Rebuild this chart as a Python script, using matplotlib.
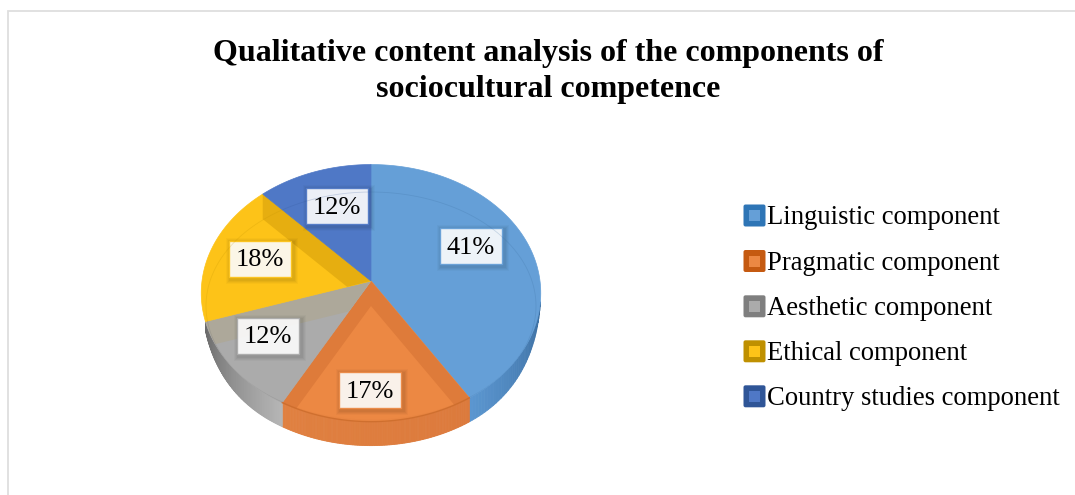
#!/usr/bin/python3
import numpy as np
import matplotlib
matplotlib.use("Agg")
import matplotlib.pyplot as plt
from matplotlib.colors import to_rgb
from matplotlib.patches import Polygon, Rectangle, FancyBboxPatch

# Данные
title_lines = ["Qualitative content analysis of the components of", "sociocultural competence"]
components = ["Linguistic component", "Pragmatic component", "Aesthetic component",
              "Ethical component", "Country studies component"]
shares = [41, 17, 12, 18, 12]

# Цвета секторов
face_colors = ["#659FD7", "#EC8843", "#ABABAB", "#FDC318", "#4F78C6"]
band_colors = ["#659FD7", "#DE7B3A", "#ADA89A", "#E6AE10", "#4C74BE"]
wall_dark = ["#3A6C9E", "#DC7A3C", "#6B6B6B", "#BF9000", "#2F5597"]
wall_light = ["#5B96D0", "#E08040", "#B6B6B6", "#BF9000", "#2F5597"]
swatch_colors = ["#2E75B6", "#C55A11", "#7F7F7F", "#BF9000", "#2F5597"]

# Центры подписей и строки легенды, в пикселях
label_xy = [(470.5, 246), (370, 390), (268, 335.5), (260, 259), (336.5, 206)]
legend_y = [215.5, 261, 306.3, 351.3, 396.3]

# Геометрия диска в пикселях
CX, CY = 371, 281
SU, SV = 169, 127.4
PERSP = 0.094
DEPTH = 24
BEVEL = 25


def project(t, r=1.0):
    # перспективная проекция точки диска, угол t от верха по часовой
    x = r * np.sin(t)
    y = r * np.cos(t)
    w = 1 + PERSP * y
    return np.column_stack([CX + SU * x / w, CY - SV * y / w])


def clip_convex(subject, clipper):
    # отсечение многоугольника выпуклым контуром
    area = np.sum(clipper[:, 0] * np.roll(clipper[:, 1], -1) - np.roll(clipper[:, 0], -1) * clipper[:, 1])
    sign = 1 if area > 0 else -1
    out = [tuple(p) for p in subject]
    for i in range(len(clipper)):
        a, b = clipper[i], clipper[(i + 1) % len(clipper)]
        side = lambda p: sign * ((b[0] - a[0]) * (p[1] - a[1]) - (b[1] - a[1]) * (p[0] - a[0]))
        res = []
        for j in range(len(out)):
            p, q = np.array(out[j]), np.array(out[(j + 1) % len(out)])
            sp, sq = side(p), side(q)
            if sp >= 0:
                res.append(tuple(p))
            if sp * sq < 0:
                res.append(tuple(p + (q - p) * sp / (sp - sq)))
        out = res
        if not out:
            break
    return np.array(out)


def wall_depth(y):
    # высота стенки плавно растёт от боковых краёв диска к переднему
    s = np.clip((y - 300) / 100, 0, 1)
    return DEPTH * s * (2 - s)


plt.rcParams["font.family"] = ["Liberation Serif", "DejaVu Serif"]
fig = plt.figure(figsize=(10.75, 4.95), dpi=100)
ax = fig.add_axes([0, 0, 1, 1])
ax.set_xlim(0, 1075)
ax.set_ylim(495, 0)
ax.axis("off")

# Рамка области графика
ax.plot([8, 8, 1075], [495, 10.5, 10.5], color="#DEDEDE", lw=1.3, solid_joinstyle="miter")

# Заголовок
ax.text(548, 54, title_lines[0], ha="center", va="center", fontsize=23, fontweight="bold", color="black")
ax.text(548, 90, title_lines[1], ha="center", va="center", fontsize=23, fontweight="bold", color="black")

edges = np.cumsum([0] + shares) / sum(shares) * 2 * np.pi
tt = np.linspace(0, 2 * np.pi, 361)
inner_oval = np.column_stack([CX + 165 * np.sin(tt), 306 + 114 * np.cos(tt)])

# Боковая стенка видна у синего, оранжевого и серого секторов
for i in range(3):
    arc = project(np.linspace(edges[i], edges[i + 1], 120))
    arc = arc[arc[:, 1] >= 300]
    for k in range(len(arc) - 1):
        f = k / max(len(arc) - 2, 1)
        if i == 2:
            f = 1 - f
        c0 = np.array(to_rgb(wall_dark[i]))
        c1 = np.array(to_rgb(wall_light[i]))
        col = c0 + (c1 - c0) * f
        p, q = arc[k], arc[k + 1]
        ax.add_patch(Polygon([p, q, q + [0, wall_depth(q[1])], p + [0, wall_depth(p[1])]],
                             closed=True, fc=col, ec=col, lw=0.6))

# Верхняя грань и полосы фаски вдоль радиальных кромок
for i in range(len(shares)):
    arc = project(np.linspace(edges[i], edges[i + 1], 120))
    wedge = np.vstack([[CX, CY], arc])
    patch = Polygon(wedge, closed=True, fc=face_colors[i], ec=face_colors[i], lw=0.5)
    ax.add_patch(patch)
    for end in (arc[0], arc[-1]):
        apex = np.array([CX, CY], dtype=float)
        strip = np.array([apex, end, end + [0, BEVEL], apex + [0, BEVEL]])
        strip = clip_convex(strip, wedge)
        if len(strip) >= 3:
            ax.add_patch(Polygon(strip, closed=True, fc=band_colors[i], ec="none"))
    line, = ax.plot(inner_oval[:, 0], inner_oval[:, 1], color=wall_dark[i], lw=0.6, alpha=0.22)
    line.set_clip_path(patch)

# Нижняя кромка оранжевого сектора
front = project(np.linspace(edges[1], edges[2], 60))
ax.plot(front[:, 0], front[:, 1], color="#C96A2A", lw=1.0, alpha=0.8)

# Подписи долей
for i, val in enumerate(shares):
    lx, ly = label_xy[i]
    for off, al in [(5, 0.025), (4, 0.03), (3, 0.035), (2, 0.04)]:
        ax.add_patch(Rectangle((lx - 31 - off + 2, ly - 18 - off + 2), 62 + 2 * off, 36 + 2 * off,
                               fc="black", ec="none", alpha=al))
    ax.add_patch(Rectangle((lx - 31, ly - 18), 62, 36, fc="white", ec=face_colors[i], lw=1.0, alpha=0.9))
    ax.text(lx, ly + 1.5, f"{val}%", ha="center", va="center", fontsize=19, color="black")

# Легенда
for name, y, edge, face in zip(components, legend_y, swatch_colors, face_colors):
    ax.add_patch(FancyBboxPatch((743.5, y - 11), 22, 22, boxstyle="round,pad=0,rounding_size=2",
                                fc=edge, ec="none"))
    ax.add_patch(Rectangle((749, y - 5.5), 11, 11, fc=face, ec="none"))
    ax.text(767, y + 2.5, name, ha="left", va="center", fontsize=19.2, color="black")

fig.savefig("out.png", dpi=100)
